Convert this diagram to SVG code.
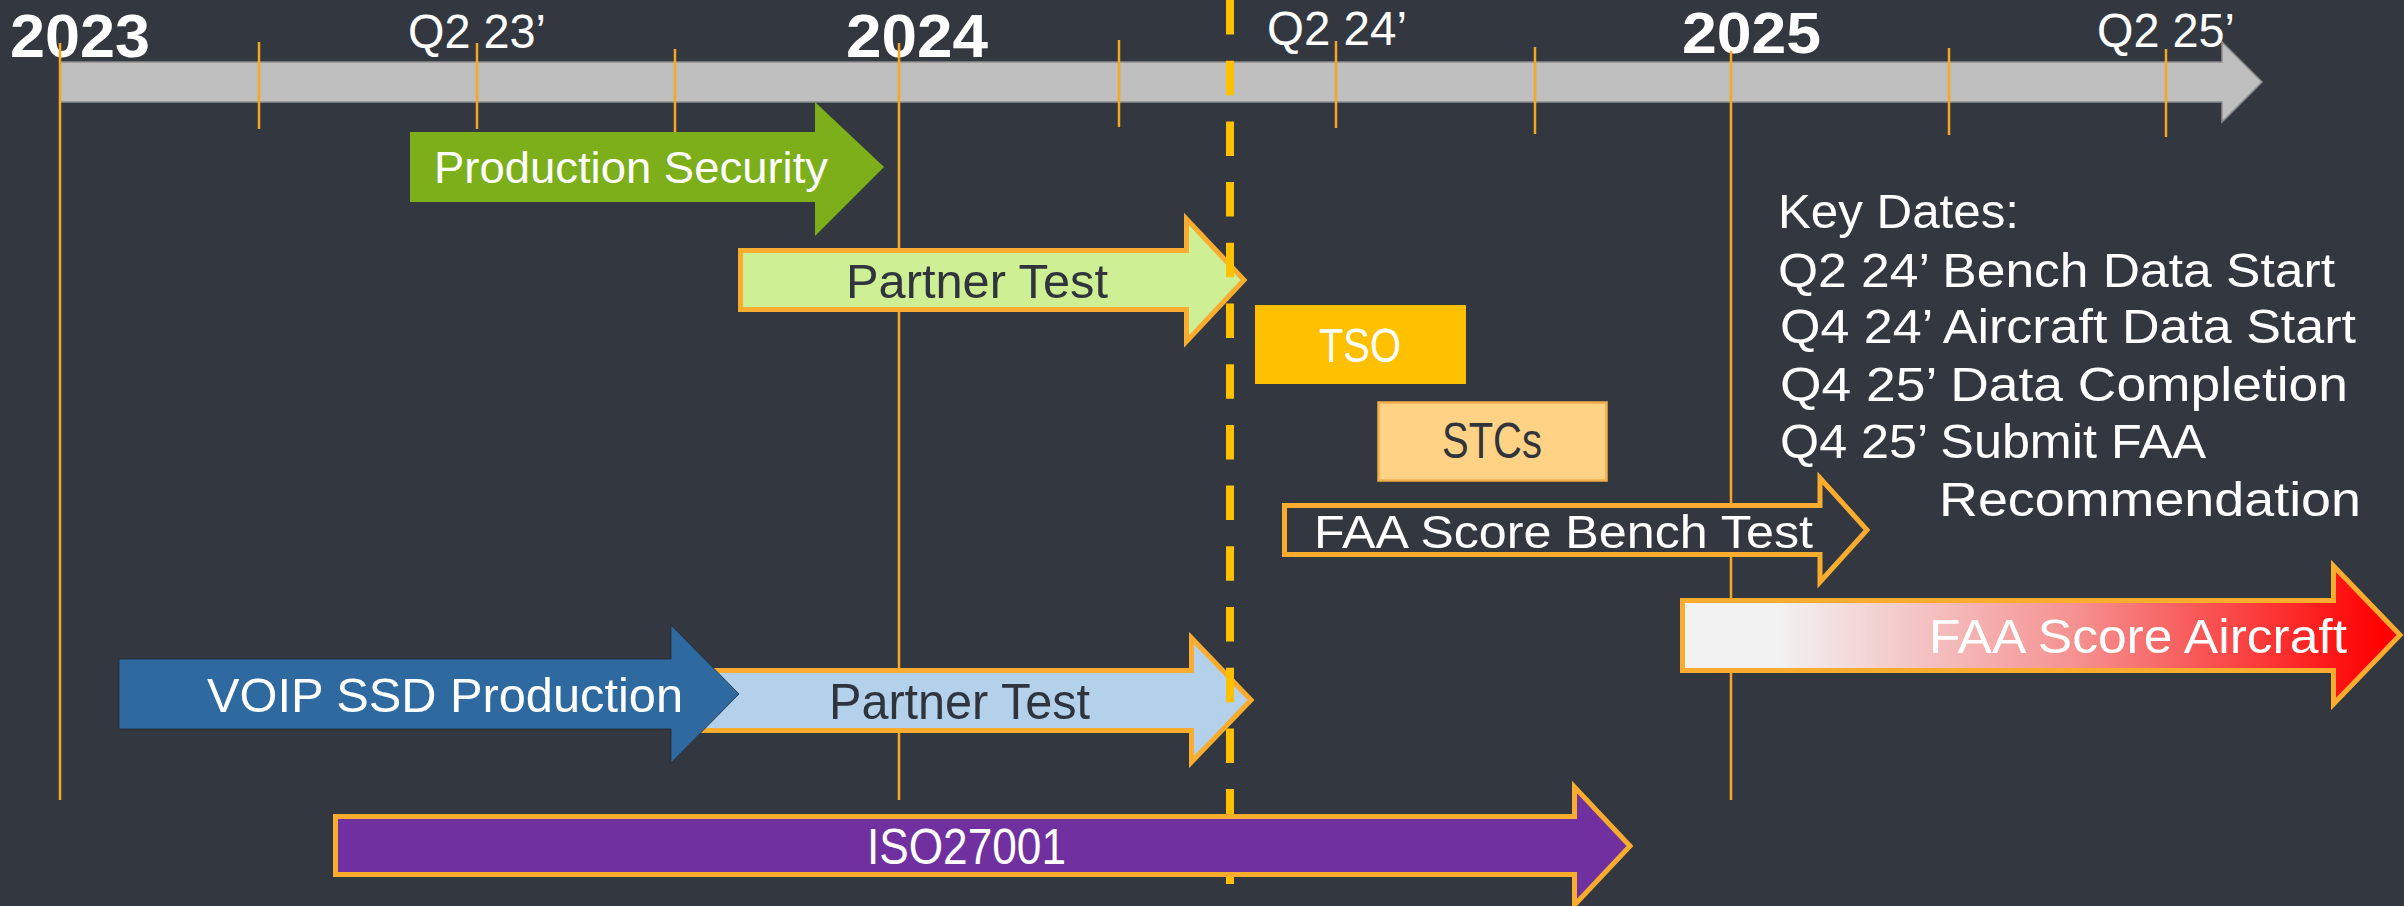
<svg xmlns="http://www.w3.org/2000/svg" width="2404" height="906" viewBox="0 0 2404 906">
<style>
.t{font-family:"Liberation Sans",Arial,sans-serif;fill:#ffffff}
.yr{font-weight:bold}
.q{font-size:48px}
.dk{fill:#30353d}
.grid{stroke:#F5A623;stroke-width:2.5;fill:none}
.ob{stroke:#F9AC2E;stroke-width:5;stroke-linejoin:miter}
</style>
<defs>
<linearGradient id="faaGrad" x1="1680" y1="0" x2="2404" y2="0" gradientUnits="userSpaceOnUse">
<stop offset="0" stop-color="#F2F2F2"/>
<stop offset="0.134" stop-color="#F2F2F2"/>
<stop offset="0.55" stop-color="#F69090"/>
<stop offset="0.97" stop-color="#FF0000"/>
<stop offset="1" stop-color="#FF0000"/>
</linearGradient>
</defs>
<rect x="0" y="0" width="2404" height="906" fill="#33373F"/>

<g id="timeline">
<path d="M60,62 H2222 V42 L2262,82 L2222,122 V102 H60 Z" fill="#BFBFBF" stroke="#8E8E8E" stroke-width="1.5"/>
<text class="t yr" x="10" y="57" font-size="62" textLength="140" lengthAdjust="spacingAndGlyphs">2023</text>
<text class="t yr" x="846" y="57" font-size="62" textLength="142" lengthAdjust="spacingAndGlyphs">2024</text>
<text class="t yr" x="1682" y="53" font-size="58" textLength="139" lengthAdjust="spacingAndGlyphs">2025</text>
<text class="t q" x="408" y="48" textLength="138" lengthAdjust="spacingAndGlyphs">Q2 23’</text>
<text class="t q" x="1267" y="45" textLength="140" lengthAdjust="spacingAndGlyphs">Q2 24’</text>
<text class="t q" x="2097" y="47" textLength="138" lengthAdjust="spacingAndGlyphs">Q2 25’</text>
</g>

<g id="gridlines">
<line class="grid" x1="60" y1="43" x2="60" y2="800"/>
<line class="grid" x1="899" y1="43" x2="899" y2="800"/>
<line class="grid" x1="1731" y1="51" x2="1731" y2="800"/>
<line class="grid" x1="259" y1="42" x2="259" y2="129"/>
<line class="grid" x1="477" y1="43" x2="477" y2="129"/>
<line class="grid" x1="675" y1="49" x2="675" y2="136"/>
<line class="grid" x1="1119" y1="40" x2="1119" y2="127"/>
<line class="grid" x1="1336" y1="41" x2="1336" y2="128"/>
<line class="grid" x1="1535" y1="47" x2="1535" y2="134"/>
<line class="grid" x1="1949" y1="48" x2="1949" y2="135"/>
<line class="grid" x1="2166" y1="49" x2="2166" y2="137"/>
</g>

<g id="production-security">
<path d="M410,132 H815 V102 L884,167 L815,236 V202 H410 Z" fill="#7DAF1B"/>
<text class="t" x="434" y="183" font-size="44" textLength="394" lengthAdjust="spacingAndGlyphs">Production Security</text>
</g>

<g id="partner-test-1">
<path class="ob" d="M740.5,250.5 H1186.5 V219 L1244,280 L1186.5,341.5 V309.5 H740.5 Z" fill="#CEEF94"/>
<text class="t dk" x="846" y="298" font-size="48" textLength="262" lengthAdjust="spacingAndGlyphs">Partner Test</text>
</g>

<g id="tso">
<rect x="1255" y="305" width="211" height="79" fill="#FFC000"/>
<text class="t" x="1319" y="362" font-size="49" textLength="82" lengthAdjust="spacingAndGlyphs">TSO</text>
</g>

<g id="stcs">
<rect x="1378.5" y="402.5" width="228" height="78" fill="#FFD285" stroke="#F2B04A" stroke-width="2.5"/>
<text class="t dk" x="1442" y="458" font-size="50" textLength="100" lengthAdjust="spacingAndGlyphs">STCs</text>
</g>

<g id="faa-bench-test">
<path class="ob" d="M1284.5,505.5 H1820 V478 L1867,530 L1820,582 V554.5 H1284.5 Z" fill="#33373F" stroke-width="4.5"/>
<text class="t" x="1314" y="548" font-size="46" textLength="499" lengthAdjust="spacingAndGlyphs">FAA Score Bench Test</text>
</g>

<g id="faa-aircraft">
<path class="ob" d="M1682.5,600.5 H2333.5 V566 L2400,635 L2333.5,704 V670.5 H1682.5 Z" fill="url(#faaGrad)"/>
<text class="t" x="1929" y="653" font-size="49" textLength="418" lengthAdjust="spacingAndGlyphs">FAA Score Aircraft</text>
</g>

<g id="key-dates">
<text class="t" x="1778" y="228" font-size="49" textLength="241" lengthAdjust="spacingAndGlyphs">Key Dates:</text>
<text class="t" x="1778" y="287" font-size="49" textLength="557" lengthAdjust="spacingAndGlyphs">Q2 24’  Bench Data Start</text>
<text class="t" x="1780" y="343" font-size="49" textLength="576" lengthAdjust="spacingAndGlyphs">Q4 24’  Aircraft Data Start</text>
<text class="t" x="1780" y="401" font-size="49" textLength="568" lengthAdjust="spacingAndGlyphs">Q4 25’  Data Completion</text>
<text class="t" x="1780" y="458" font-size="49" textLength="426" lengthAdjust="spacingAndGlyphs">Q4 25’  Submit FAA</text>
<text class="t" x="1939" y="516" font-size="49" textLength="422" lengthAdjust="spacingAndGlyphs">Recommendation</text>
</g>

<g id="partner-test-2">
<path class="ob" d="M690,670.5 H1191.5 V638 L1251,700 L1191.5,762 V730.5 H690 Z" fill="#B4D1EC"/>
<text class="t dk" x="829" y="719" font-size="50" textLength="261" lengthAdjust="spacingAndGlyphs">Partner Test</text>
</g>

<g id="voip-ssd-production">
<path d="M119,659 H671 V625 L739,694 L671,763 V729 H119 Z" fill="#2E6AA0" stroke="#26292f" stroke-width="0.8"/>
<text class="t" x="207" y="712" font-size="49" textLength="476" lengthAdjust="spacingAndGlyphs">VOIP SSD Production</text>
</g>

<g id="today-marker">
<line x1="1230" y1="0" x2="1230" y2="884" stroke="#FFC000" stroke-width="8" stroke-dasharray="34.5 26.2"/>
</g>

<g id="iso27001">
<path class="ob" d="M335.5,816.5 H1574.5 V787 L1630,846 L1574.5,905 V874.5 H335.5 Z" fill="#7030A0"/>
<text class="t" x="867" y="864" font-size="50" textLength="199" lengthAdjust="spacingAndGlyphs">ISO27001</text>
</g>
</svg>
